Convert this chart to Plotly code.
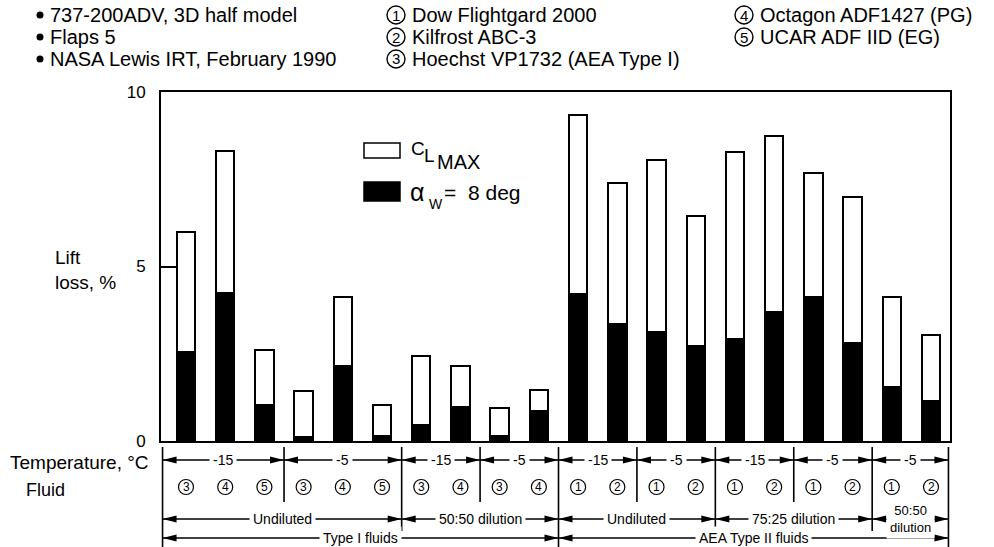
import plotly.graph_objects as go

# ---------------------------------------------------------------- data
# Lift loss (%) for each tested configuration, left to right
clmax_loss = [6.0, 8.3, 2.6, 1.43, 4.14, 1.03, 2.45, 2.15, 0.96, 1.46,
              9.35, 7.39, 8.05, 6.46, 8.27, 8.75, 7.68, 6.98, 4.13, 3.04]
alpha8_loss = [2.56, 4.24, 1.03, 0.12, 2.15, 0.15, 0.46, 0.97, 0.15, 0.87,
               4.22, 3.35, 3.12, 2.71, 2.92, 3.71, 4.12, 2.82, 1.55, 1.15]
fluid_ids = [3, 4, 5, 3, 4, 5, 3, 4, 3, 4, 1, 2, 1, 2, 1, 2, 1, 2, 1, 2]

# test conditions below the bars: label and number of bars covered
temp_labels = ["-15", "-5", "-15", "-5", "-15", "-5", "-15", "-5", "-5"]
temp_counts = [3, 3, 2, 2, 2, 2, 2, 2, 2]
dilution_labels = ["Undiluted", "50:50 dilution", "Undiluted",
                   "75:25 dilution", "50:50<br>dilution"]
dilution_counts = [6, 4, 4, 4, 2]
type_labels = ["Type I fluids", "AEA Type II fluids"]
type_counts = [10, 10]

notes = ["737-200ADV, 3D half model", "Flaps 5", "NASA Lewis IRT, February 1990"]
fluid_names = ["Dow Flightgard 2000", "Kilfrost ABC-3", "Hoechst VP1732 (AEA Type I)",
               "Octagon ADF1427 (PG)", "UCAR ADF IID (EG)"]

y_ticks = [0, 5, 10]

# ---------------------------------------------------------------- layout geometry
W, H = 994, 547
PL, PR, PT, PB = 161, 950, 92, 441          # plot area edges in pixels
FONT = "Liberation Sans, Arial, sans-serif"

n_bars = len(clmax_loss)
first_c, last_c = 186, 931                  # pixel centres of first / last bar
step = (last_c - first_c) / (n_bars - 1)
x_min = -(first_c - PL) / step
x_max = (n_bars - 1) + (PR - last_c) / step


def fx(p):
    """pixel column -> paper x"""
    return (p - PL) / (PR - PL)


def fy(p):
    """pixel row -> paper y"""
    return (PB - p) / (PB - PT)


idx = list(range(n_bars))

fig = go.Figure()
fig.add_trace(go.Bar(x=idx, y=clmax_loss, width=0.47, name="CLMAX",
                     marker=dict(color="white", line=dict(color="black", width=2)),
                     showlegend=False, hoverinfo="y"))
fig.add_trace(go.Bar(x=idx, y=alpha8_loss, width=0.47, name="alpha_w = 8 deg",
                     marker=dict(color="black", line=dict(color="black", width=2)),
                     showlegend=False, hoverinfo="y"))

shapes = []
annotations = []


def text(x, y, s, size=13, xref="paper", xanchor="center", bg=None, pad=1, align="center"):
    a = dict(x=x, y=y, xref=xref, yref="paper", text=s, showarrow=False,
             xanchor=xanchor, yanchor="middle", align=align,
             font=dict(family=FONT, size=size, color="black"), borderpad=pad)
    if bg:
        a["bgcolor"] = bg
    annotations.append(a)


def circle(x, y_px, d, xref, lw=1.2, fill=None):
    shapes.append(dict(type="circle", xref=xref, yref="paper",
                       xsizemode="pixel", ysizemode="pixel",
                       xanchor=x, yanchor=fy(y_px),
                       x0=-d / 2, x1=d / 2, y0=-d / 2, y1=d / 2,
                       line=dict(color="black", width=lw if fill is None else 0),
                       fillcolor=fill or "rgba(0,0,0,0)"))


# ---------------------------------------------------------------- header notes
note_rows = [15, 37, 59]
for r, s in zip(note_rows, notes):
    circle(fx(40), r, 7, "paper", fill="black")
    text(fx(48), fy(r), s, size=20, xanchor="left")

fluid_cols = [(396, 410), (396, 410), (396, 410), (744, 758), (744, 758)]
fluid_rows = [15, 37, 59, 15, 37]
for k, name in enumerate(fluid_names):
    cx, tx = fluid_cols[k]
    r = fluid_rows[k]
    circle(fx(cx), r, 18, "paper", lw=1.4)
    text(fx(cx), fy(r), str(k + 1), size=15)
    text(fx(tx), fy(r), name, size=20, xanchor="left")

# ---------------------------------------------------------------- y-axis title
text(fx(53), fy(270), "Lift<br>loss, %", size=19, xanchor="left", align="left")

# ---------------------------------------------------------------- in-plot key
shapes.append(dict(type="rect", xref="paper", yref="paper",
                   x0=fx(364), x1=fx(400), y0=fy(158), y1=fy(143),
                   line=dict(color="black", width=1.5), fillcolor="white"))
shapes.append(dict(type="rect", xref="paper", yref="paper",
                   x0=fx(364), x1=fx(400), y0=fy(201), y1=fy(182),
                   line=dict(color="black", width=1.5), fillcolor="black"))
text(fx(409), fy(148), "C", size=19, xanchor="left")
text(fx(422), fy(155), "L", size=19, xanchor="left")
text(fx(435), fy(162), "MAX", size=20, xanchor="left")
text(fx(408), fy(192), "\u03b1", size=25, xanchor="left")
text(fx(427), fy(204), "W", size=14, xanchor="left")
text(fx(442), fy(192), "=  8 deg", size=21, xanchor="left")

# ---------------------------------------------------------------- condition table
TBL_L, TBL_R = x_min + 0.04, x_max - 0.04
Y_TEMP, Y_FLUID, Y_DIL, Y_TYPE = 460, 487, 519, 538
DIV_TOP = 447
DEPTH_TEMP, DEPTH_DIL, DEPTH_TYPE = 502, 531, 560


def spans(counts):
    out, start, total = [], 0, sum(counts)
    for n in counts:
        a = TBL_L if start == 0 else start - 0.5
        b = TBL_R if start + n == total else start + n - 0.5
        out.append((a, b))
        start += n
    return out


def arrow_head(x, y_px, direction):
    tip = "M0,0 L-14,-3.4 L-14,3.4 Z" if direction > 0 else "M0,0 L14,-3.4 L14,3.4 Z"
    shapes.append(dict(type="path", xref="x", yref="paper",
                       xsizemode="pixel", ysizemode="pixel",
                       xanchor=x, yanchor=fy(y_px), path=tip,
                       fillcolor="black", line=dict(width=0)))


def arrow_row(labels, counts, y_px, size=14):
    for lab, (a, b) in zip(labels, spans(counts)):
        shapes.append(dict(type="line", xref="x", yref="paper",
                           x0=a, x1=b, y0=fy(y_px), y1=fy(y_px),
                           line=dict(color="black", width=1.3)))
        arrow_head(a, y_px, -1)
        arrow_head(b, y_px, +1)
        fs = 13 if "<br>" in lab else size
        text((a + b) / 2, fy(y_px), lab, size=fs, xref="x", bg="white", pad=3)


# vertical dividers: the deeper the grouping level, the longer the line
depth = {}
for counts, d in ((temp_counts, DEPTH_TEMP), (dilution_counts, DEPTH_DIL),
                  (type_counts, DEPTH_TYPE)):
    for a, b in spans(counts):
        for edge in (a, b):
            key = round(edge, 3)
            depth[key] = max(depth.get(key, 0), d)
for edge, d in depth.items():
    if edge in (round(TBL_L, 3), round(TBL_R, 3)):
        d = DEPTH_TYPE
    shapes.append(dict(type="line", xref="x", yref="paper",
                       x0=edge, x1=edge, y0=fy(DIV_TOP), y1=fy(d),
                       line=dict(color="black", width=1.6)))

arrow_row(temp_labels, temp_counts, Y_TEMP)
arrow_row(dilution_labels, dilution_counts, Y_DIL)
arrow_row(type_labels, type_counts, Y_TYPE)

for i, f in enumerate(fluid_ids):
    circle(i, Y_FLUID, 15, "x", lw=1.2)
    text(i, fy(Y_FLUID), str(f), size=12, xref="x")

text(fx(8), fy(462), "Temperature, \u00b0C", size=19, xanchor="left")
text(fx(24), fy(490), "Fluid", size=18, xanchor="left")

# ---------------------------------------------------------------- axes
fig.update_layout(
    width=W, height=H,
    margin=dict(l=PL, r=W - PR, t=PT, b=H - PB, pad=0),
    paper_bgcolor="white", plot_bgcolor="white",
    barmode="overlay", bargap=0,
    font=dict(family=FONT, color="black"),
    shapes=shapes, annotations=annotations,
    xaxis=dict(range=[x_min, x_max], showticklabels=False, ticks="",
               showgrid=False, zeroline=False, showline=True, mirror=True,
               linecolor="black", linewidth=2, fixedrange=True),
    yaxis=dict(range=[0, 10], tickvals=y_ticks, ticktext=[str(v) for v in y_ticks],
               ticks="inside", ticklen=15, tickwidth=1.5, tickcolor="black",
               ticklabelstandoff=10, tickfont=dict(family=FONT, size=17, color="black"),
               showgrid=False, zeroline=False, showline=True, mirror=True,
               linecolor="black", linewidth=2, fixedrange=True),
)

fig.write_html("out.html")
